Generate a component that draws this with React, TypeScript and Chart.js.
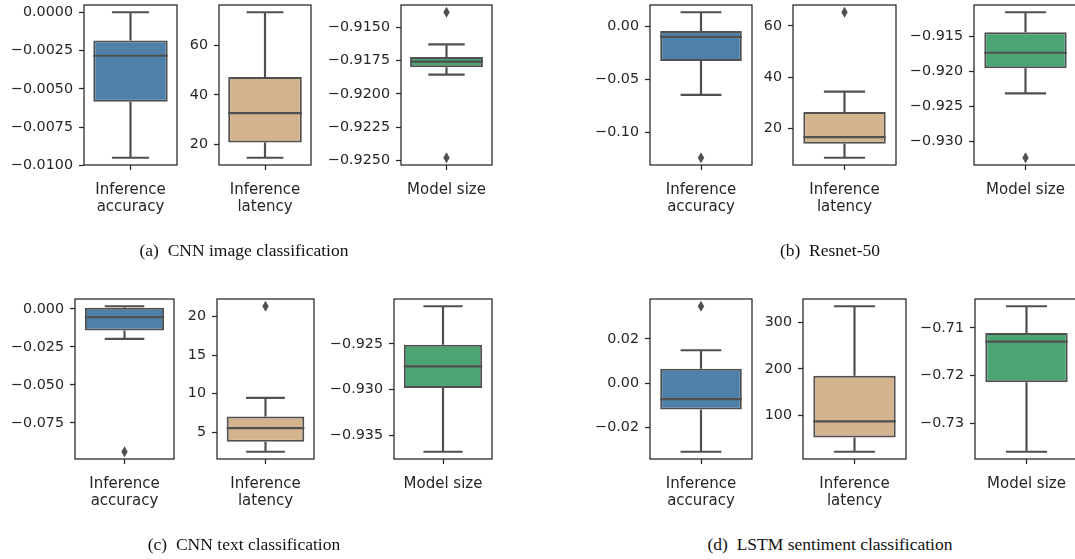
import React, { useEffect, useRef } from 'react';
import { Chart, registerables } from 'chart.js';
Chart.register(...registerables);

// ---------- data ----------
const metricLabels: string[][] = [['Inference', 'accuracy'], ['Inference', 'latency'], ['Model size']];
const boxColors = ['#4e80aa', '#d4b48e', '#4aa572'];

// (a) CNN image classification
const cnnImageLow = [-0.0095, 14.7, -0.91855];
const cnnImageQ1 = [-0.00585, 20.8, -0.91798];
const cnnImageMedian = [-0.00284, 32.6, -0.91757];
const cnnImageQ3 = [-0.00185, 47.2, -0.91721];
const cnnImageHigh = [0.0, 73.2, -0.91627];
const cnnImageOutliers = [[], [], [-0.91385, -0.9248]];
const cnnImageTicks = [[-0.01, -0.0075, -0.005, -0.0025, 0], [20, 40, 60], [-0.925, -0.9225, -0.92, -0.9175, -0.915]];
const cnnImageDecimals = [4, 0, 4];

// (b) Resnet-50
const resnetLow = [-0.0647, 8.7, -0.92313];
const resnetQ1 = [-0.0325, 14.1, -0.91953];
const resnetMedian = [-0.0098, 16.7, -0.9173];
const resnetQ3 = [-0.0041, 26.5, -0.91437];
const resnetHigh = [0.0136, 34.4, -0.9115];
const resnetOutliers = [[-0.1242], [65.3], [-0.93234]];
const resnetTicks = [[-0.1, -0.05, 0], [20, 40, 60], [-0.93, -0.925, -0.92, -0.915]];
const resnetDecimals = [2, 0, 3];

// (c) CNN text classification
const cnnTextLow = [-0.0197, 2.5, -0.93683];
const cnnTextQ1 = [-0.0142, 3.8, -0.92984];
const cnnTextMedian = [-0.0055, 5.56, -0.92746];
const cnnTextQ3 = [0.0007, 7.05, -0.92508];
const cnnTextHigh = [0.0017, 9.45, -0.92087];
const cnnTextOutliers = [[-0.094], [21.3], []];
const cnnTextTicks = [[-0.075, -0.05, -0.025, 0], [5, 10, 15, 20], [-0.935, -0.93, -0.925]];
const cnnTextDecimals = [3, 0, 3];

// (d) LSTM sentiment classification
const lstmLow = [-0.031, 23, -0.73593];
const lstmQ1 = [-0.0119, 53.5, -0.7214];
const lstmMedian = [-0.0072, 87.8, -0.71287];
const lstmQ3 = [0.0065, 185.7, -0.71105];
const lstmHigh = [0.0149, 334, -0.70547];
const lstmOutliers = [[0.0348], [], []];
const lstmTicks = [[-0.02, 0, 0.02], [100, 200, 300], [-0.73, -0.72, -0.71]];
const lstmDecimals = [2, 0, 2];

const captions = ['(a)  CNN image classification', '(b)  Resnet-50', '(c)  CNN text classification', '(d)  LSTM sentiment classification'];

const panels = [
  { low: cnnImageLow, q1: cnnImageQ1, med: cnnImageMedian, q3: cnnImageQ3, high: cnnImageHigh, out: cnnImageOutliers, ticks: cnnImageTicks, dec: cnnImageDecimals },
  { low: resnetLow, q1: resnetQ1, med: resnetMedian, q3: resnetQ3, high: resnetHigh, out: resnetOutliers, ticks: resnetTicks, dec: resnetDecimals },
  { low: cnnTextLow, q1: cnnTextQ1, med: cnnTextMedian, q3: cnnTextQ3, high: cnnTextHigh, out: cnnTextOutliers, ticks: cnnTextTicks, dec: cnnTextDecimals },
  { low: lstmLow, q1: lstmQ1, med: lstmMedian, q3: lstmQ3, high: lstmHigh, out: lstmOutliers, ticks: lstmTicks, dec: lstmDecimals },
];

// ---------- layout ----------
const axesLeft = [[84, 219, 401], [650, 793, 974], [75, 217, 394], [650, 803, 975]];
const axesWidth = [[93, 92, 91], [102, 103, 103], [99, 97, 98], [102, 103, 103]];
const axesTop = [5, 5, 299, 299];
const axesHeight = 160;
const captionPos = [[244, 250], [830, 250], [244, 544], [830, 544]];
const Y_AXIS_W = 80;
const PAD_TOP = 20;
const PAD_RIGHT = 16;
const X_AXIS_H = 60;

const INK = '#262626';
const LINE = '#505050';

function fmt(v: number, d: number) {
  return v.toFixed(d).replace('-', '\u2212');
}

function makeBoxPlugin(s: { low: number; q1: number; med: number; q3: number; high: number; out: number[] }) {
  return {
    id: 'boxExtras',
    afterDatasetsDraw(chart: any) {
      const { ctx, chartArea } = chart;
      const xs = chart.scales.x;
      const ys = chart.scales.y;
      const cx = xs.getPixelForValue(0);
      const catW = chartArea.right - chartArea.left;
      const capHalf = catW * 0.2;
      const boxHalf = catW * 0.4;
      const yl = ys.getPixelForValue(s.low);
      const yq1 = ys.getPixelForValue(s.q1);
      const ym = ys.getPixelForValue(s.med);
      const yq3 = ys.getPixelForValue(s.q3);
      const yh = ys.getPixelForValue(s.high);
      ctx.save();
      ctx.strokeStyle = LINE;
      ctx.lineWidth = 2.2;
      ctx.beginPath();
      ctx.moveTo(cx, yq1); ctx.lineTo(cx, yl);
      ctx.moveTo(cx, yq3); ctx.lineTo(cx, yh);
      ctx.moveTo(cx - capHalf, yl); ctx.lineTo(cx + capHalf, yl);
      ctx.moveTo(cx - capHalf, yh); ctx.lineTo(cx + capHalf, yh);
      ctx.stroke();
      ctx.beginPath();
      ctx.moveTo(cx - boxHalf, ym); ctx.lineTo(cx + boxHalf, ym);
      ctx.stroke();
      ctx.fillStyle = LINE;
      for (const v of s.out) {
        const py = ys.getPixelForValue(v);
        ctx.beginPath();
        ctx.moveTo(cx, py - 5.5);
        ctx.lineTo(cx + 3.2, py);
        ctx.lineTo(cx, py + 5.5);
        ctx.lineTo(cx - 3.2, py);
        ctx.closePath();
        ctx.fill();
      }
      ctx.restore();
    },
    afterDraw(chart: any) {
      const { ctx, chartArea } = chart;
      ctx.save();
      ctx.strokeStyle = INK;
      ctx.lineWidth = 1.25;
      ctx.strokeRect(chartArea.left, chartArea.top, chartArea.right - chartArea.left, chartArea.bottom - chartArea.top);
      ctx.restore();
    },
  };
}

function Subplot({ p, i }: { p: number; i: number }) {
  const ref = useRef<HTMLCanvasElement>(null);
  const d = panels[p];
  const w = Y_AXIS_W + axesWidth[p][i] + PAD_RIGHT;
  const h = PAD_TOP + axesHeight + X_AXIS_H;
  useEffect(() => {
    if (!ref.current) return;
    const lo = Math.min(d.low[i], ...d.out[i]);
    const hi = Math.max(d.high[i], ...d.out[i]);
    const margin = (hi - lo) * 0.05;
    const tickVals = d.ticks[i];
    const dec = d.dec[i];
    const chart = new Chart(ref.current, {
      type: 'bar',
      data: {
        labels: [metricLabels[i]],
        datasets: [
          {
            data: [[d.q1[i], d.q3[i]]],
            backgroundColor: boxColors[i],
            borderColor: LINE,
            borderWidth: 2,
            borderSkipped: false,
            barPercentage: 0.8,
            categoryPercentage: 1.0,
          } as any,
        ],
      },
      options: {
        responsive: false,
        animation: false,
        layout: { padding: { top: PAD_TOP, right: PAD_RIGHT, left: 0, bottom: 0 } },
        plugins: { legend: { display: false }, tooltip: { enabled: false } },
        scales: {
          x: {
            type: 'category',
            offset: true,
            grid: { drawOnChartArea: false, drawTicks: true, tickLength: 5, offset: false, tickColor: INK, tickWidth: 1.25 } as any,
            border: { display: false },
            ticks: { color: INK, font: { family: 'DejaVu Sans', size: 15, lineHeight: 1.15 }, padding: 11.5, maxRotation: 0, autoSkip: false },
            afterFit: (s: any) => { s.height = X_AXIS_H; },
          },
          y: {
            type: 'linear',
            min: lo - margin,
            max: hi + margin,
            grid: { drawOnChartArea: false, drawTicks: true, tickLength: 5, tickColor: INK, tickWidth: 1.25 } as any,
            border: { display: false },
            ticks: {
              color: INK,
              font: { family: 'DejaVu Sans', size: 14.3 },
              padding: 6,
              callback: (v: any) => fmt(Number(v), dec),
            },
            afterBuildTicks: (s: any) => { s.ticks = tickVals.map((v) => ({ value: v })); },
            afterFit: (s: any) => { s.width = Y_AXIS_W; },
          },
        },
      } as any,
      plugins: [makeBoxPlugin({ low: d.low[i], q1: d.q1[i], med: d.med[i], q3: d.q3[i], high: d.high[i], out: d.out[i] })],
    });
    return () => chart.destroy();
  }, [p, i]);
  return (
    <canvas
      ref={ref}
      width={w}
      height={h}
      style={{ position: 'absolute', left: axesLeft[p][i] - Y_AXIS_W, top: axesTop[p] - PAD_TOP, width: w, height: h }}
    />
  );
}

export default function App() {
  return (
    <div style={{ position: 'fixed', left: 0, top: 0, width: 1075, height: 559, overflow: 'hidden', background: '#ffffff' }}>
      {panels.map((_, p) => (
        <React.Fragment key={p}>
          {[0, 1, 2].map((i) => (
            <Subplot key={i} p={p} i={i} />
          ))}
          <div
            style={{
              position: 'absolute',
              left: captionPos[p][0],
              top: captionPos[p][1],
              transform: 'translate(-50%, -50%)',
              fontFamily: '"Liberation Serif", "DejaVu Serif", serif',
              fontSize: 17.5,
              color: '#111',
              whiteSpace: 'pre',
            }}
          >
            {captions[p]}
          </div>
        </React.Fragment>
      ))}
    </div>
  );
}
